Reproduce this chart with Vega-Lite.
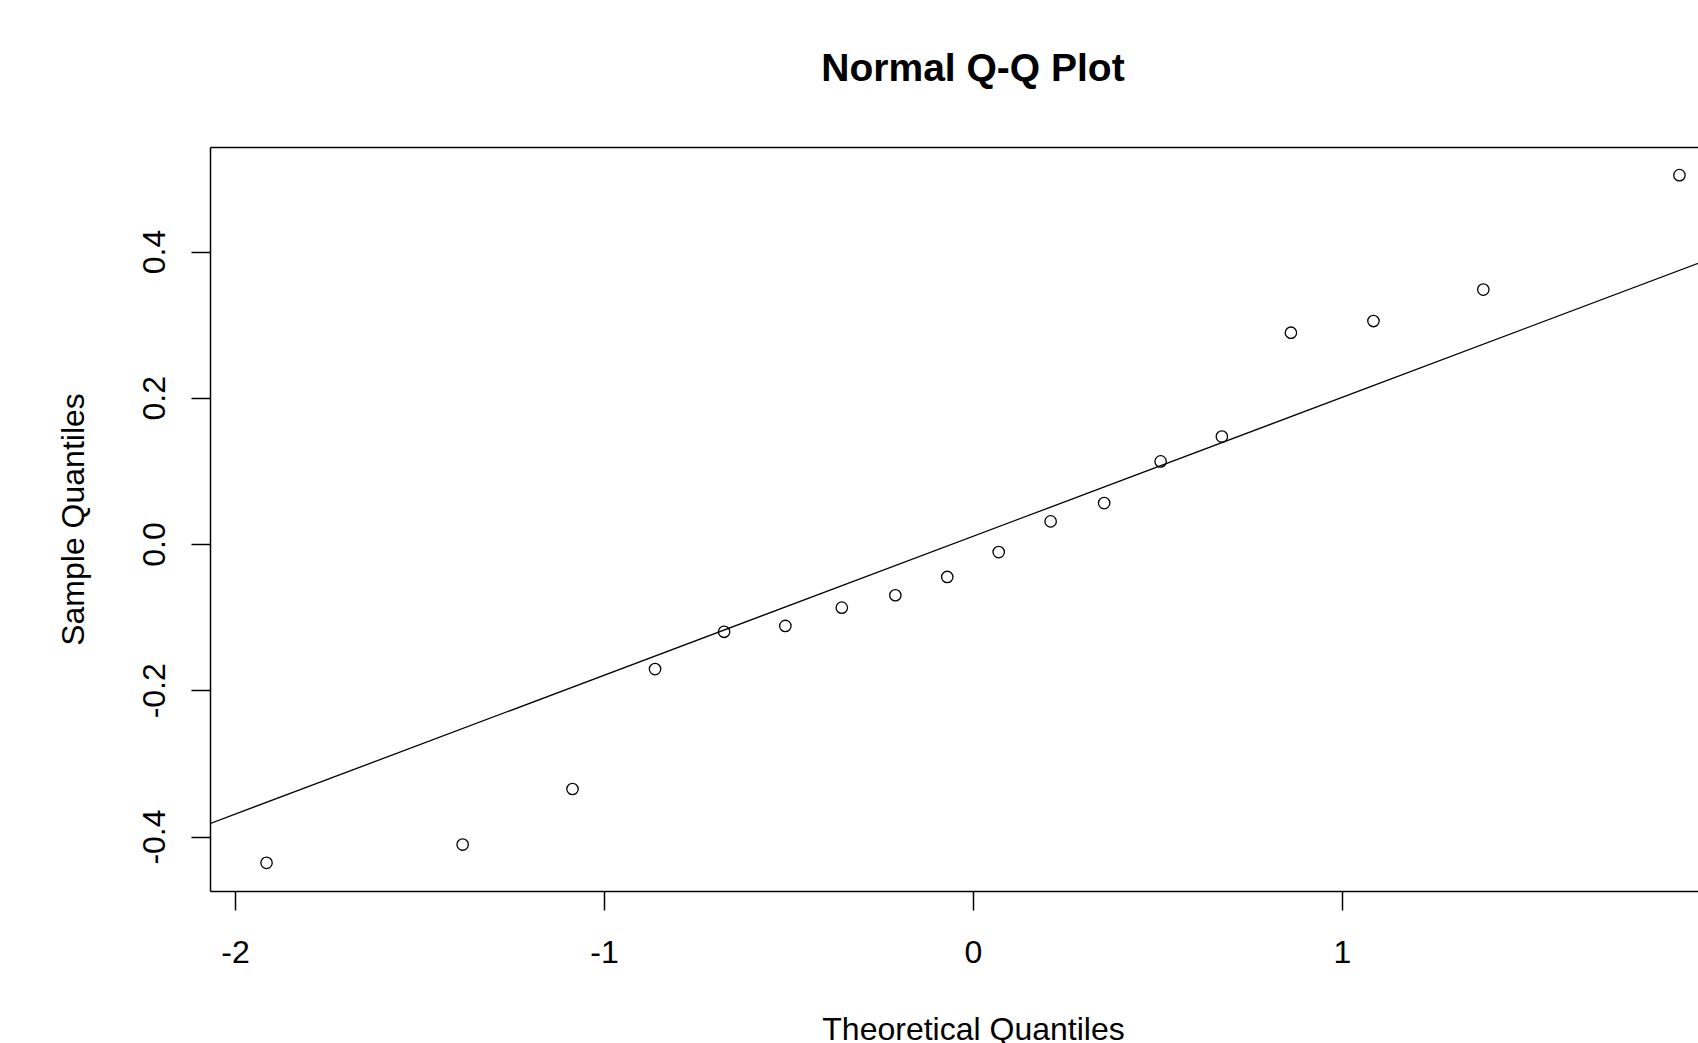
{
  "$schema": "https://vega.github.io/schema/vega-lite/v6.json",
  "width": 1488,
  "height": 744,
  "autosize": {"type": "none"},
  "padding": {"left": 210, "top": 147, "right": 0, "bottom": 152},
  "background": "white",
  "config": {
    "view": {"stroke": null},
    "font": "Liberation Sans",
    "axis": {"grid": false, "domainColor": "black", "tickColor": "black", "labelColor": "black", "titleColor": "black", "domainWidth": 1.5, "tickWidth": 1.5, "labelFont": "Liberation Sans", "titleFont": "Liberation Sans"}
  },
  "title": {"text": "Normal Q-Q Plot", "font": "Liberation Sans", "fontSize": 39, "fontWeight": "bold", "color": "black", "anchor": "middle", "frame": "group", "baseline": "alphabetic", "offset": 27, "dx": 19},
  "datasets": {
    "pts": [
      {"theoretical": -1.9145, "sample": -0.436},
      {"theoretical": -1.3830, "sample": -0.411},
      {"theoretical": -1.0853, "sample": -0.335},
      {"theoretical": -0.8616, "sample": -0.171},
      {"theoretical": -0.6745, "sample": -0.120},
      {"theoretical": -0.5085, "sample": -0.112},
      {"theoretical": -0.3555, "sample": -0.087},
      {"theoretical": -0.2104, "sample": -0.070},
      {"theoretical": -0.0697, "sample": -0.045},
      {"theoretical": 0.0697, "sample": -0.011},
      {"theoretical": 0.2104, "sample": 0.031},
      {"theoretical": 0.3555, "sample": 0.056},
      {"theoretical": 0.5085, "sample": 0.113},
      {"theoretical": 0.6745, "sample": 0.147},
      {"theoretical": 0.8616, "sample": 0.289},
      {"theoretical": 1.0853, "sample": 0.305},
      {"theoretical": 1.3830, "sample": 0.348},
      {"theoretical": 1.9145, "sample": 0.5045}
    ],
    "qqline": [
      {"theoretical": -2.2, "sample": -0.4075},
      {"theoretical": 2.2, "sample": 0.4285}
    ]
  },
  "layer": [
    {
      "data": {"name": "qqline"},
      "mark": {"type": "line", "color": "black", "strokeWidth": 1.3, "clip": true},
      "encoding": {
        "x": {"field": "theoretical", "type": "quantitative", "scale": {"domain": [-2.0677, 1.9648], "nice": false, "zero": false},
          "axis": {"orient": "top", "labels": false, "ticks": false, "title": null, "domain": true}},
        "y": {"field": "sample", "type": "quantitative", "scale": {"domain": [-0.4745, 0.543], "nice": false, "zero": false},
          "axis": {"values": [-0.4, -0.2, 0, 0.2, 0.4], "format": ".1f", "labelExpr": "replace(datum.label, '\u2212', '-')", "labelAngle": -90, "labelAlign": "center", "labelBaseline": "alphabetic", "labelFontSize": 32, "labelPadding": 26.5, "tickSize": 19, "labelOverlap": false, "labelFlush": false,
            "title": "Sample Quantiles", "titleFontSize": 32, "titleFontWeight": "normal", "titleAngle": -90, "titleBaseline": "alphabetic", "titleAlign": "center", "titleX": -127, "titleY": 372}}
      }
    },
    {
      "data": {"name": "pts"},
      "mark": {"type": "point", "shape": "circle", "filled": false, "stroke": "black", "strokeWidth": 1.3, "size": 130, "opacity": 1},
      "encoding": {
        "x": {"field": "theoretical", "type": "quantitative", "scale": {"domain": [-2.0677, 1.9648], "nice": false, "zero": false},
          "axis": {"orient": "bottom", "values": [-2, -1, 0, 1, 2], "format": "d", "labelExpr": "replace(datum.label, '\u2212', '-')", "labelFontSize": 32, "labelBaseline": "alphabetic", "labelPadding": 52, "tickSize": 19, "labelOverlap": false, "labelFlush": false,
            "title": "Theoretical Quantiles", "titleFontSize": 32, "titleFontWeight": "normal", "titleBaseline": "alphabetic", "titleAlign": "center", "titleX": 763, "titleY": 148}},
        "y": {"field": "sample", "type": "quantitative", "scale": {"domain": [-0.4745, 0.543], "nice": false, "zero": false},
          "axis": {"values": [-0.4, -0.2, 0, 0.2, 0.4], "format": ".1f", "labelExpr": "replace(datum.label, '\u2212', '-')", "labelAngle": -90, "labelAlign": "center", "labelBaseline": "alphabetic", "labelFontSize": 32, "labelPadding": 26.5, "tickSize": 19, "labelOverlap": false, "labelFlush": false,
            "title": "Sample Quantiles", "titleFontSize": 32, "titleFontWeight": "normal", "titleAngle": -90, "titleBaseline": "alphabetic", "titleAlign": "center", "titleX": -127, "titleY": 372}}
      }
    }
  ],
  "resolve": {"axis": {"x": "independent"}}
}
